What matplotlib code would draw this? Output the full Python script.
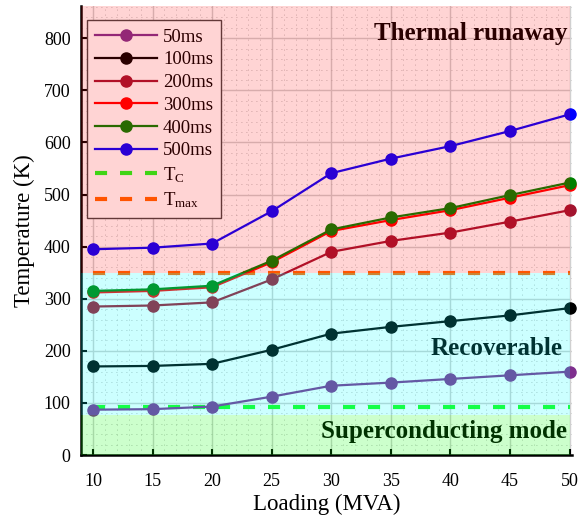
import matplotlib
matplotlib.use("Agg")
import matplotlib.pyplot as plt
from matplotlib.ticker import MultipleLocator

plt.rcParams['font.family'] = ['Liberation Serif', 'DejaVu Serif']
plt.rcParams['mathtext.fontset'] = 'custom'
plt.rcParams['mathtext.rm'] = 'Liberation Serif'
plt.rcParams['mathtext.it'] = 'Liberation Serif:italic'
plt.rcParams['mathtext.bf'] = 'Liberation Serif:bold'

# ---- data ----
loading = [10, 15, 20, 25, 30, 35, 40, 45, 50]
t50 = [87, 88, 93, 112, 133, 139, 146, 153, 160]
t100 = [170, 171, 175, 202, 233, 246, 257, 268, 282]
t200 = [285, 287, 293, 337, 390, 411, 427, 448, 470]
t300 = [312, 315, 322, 370, 430, 451, 470, 494, 518]
t400 = [315, 318, 325, 373, 433, 456, 474, 499, 523]
t500 = [395, 398, 406, 468, 541, 569, 593, 622, 654]
series_labels = ['50ms', '100ms', '200ms', '300ms', '400ms', '500ms']
T_C = 92
T_MAX = 350
zone_sc_top = 77
zone_rec_top = 349
xticks = [10, 15, 20, 25, 30, 35, 40, 45, 50]
yticks = [0, 100, 200, 300, 400, 500, 600, 700, 800]

colors = ['#7E2F8E', '#000000', '#A2142F', '#FF0000', '#008000', '#0000FF']

fig = plt.figure(figsize=(5.81, 5.19), dpi=100)
ax = fig.add_axes([81 / 581, 64 / 519, 491 / 581, 449 / 519])

for vals, lab, c in zip([t50, t100, t200, t300, t400, t500], series_labels, colors):
    ax.plot(loading, vals, '-o', color=c, lw=1.6, ms=8, mec=c, mfc=c,
            label=lab, clip_on=False, zorder=3)

ax.plot([loading[0], loading[-1]], [T_C, T_C], color='#1aff1a', lw=3,
        dashes=(2.9, 3.1), label=r'T$_\mathrm{C}$', zorder=2.5)
ax.plot([loading[0], loading[-1]], [T_MAX, T_MAX], color='#FF6600', lw=3,
        dashes=(2.9, 3.1), label=r'T$_\mathrm{max}$', zorder=2.5)

ax.set_xlim(9, 50.2)
ax.set_ylim(0, 862)

# zone annotations (under the tinted overlays)
ax.text(49.77, 797, 'Thermal runaway', ha='right', va='baseline',
        fontsize=18, fontweight='bold', color='black', zorder=4)
ax.text(49.43, 192, 'Recoverable', ha='right', va='baseline',
        fontsize=18, fontweight='bold', color='black', zorder=4)
ax.text(49.77, 32, 'Superconducting mode', ha='right', va='baseline',
        fontsize=18, fontweight='bold', color='black', zorder=4)

leg = ax.legend(loc='upper left', bbox_to_anchor=(6 / 491, 1 - 14 / 449),
                borderaxespad=0, fontsize=13.5, handlelength=3.3,
                handletextpad=0.3, labelspacing=0.3, borderpad=0.45,
                fancybox=False, framealpha=1, facecolor='white',
                edgecolor='#444444')
leg.get_frame().set_linewidth(1.0)
leg.set_zorder(5)

# tinted overlays on top of everything
ax.fill_between([8, 50], 0, zone_sc_top, color='#00ff00', alpha=0.2, lw=0, zorder=10)
ax.fill_between([8, 50], zone_sc_top, zone_rec_top, color='#00ffff', alpha=0.2, lw=0, zorder=10)
ax.fill_between([8, 50], zone_rec_top, 2000, color='#ff0000', alpha=0.17, lw=0, zorder=10)

# grids
ax.set_xticks(xticks)
ax.set_yticks(yticks)
ax.xaxis.set_minor_locator(MultipleLocator(1))
ax.yaxis.set_minor_locator(MultipleLocator(20))
ax.grid(which='major', color='#d0d0d0', lw=1.0, zorder=0)
ax.grid(which='minor', color='#b0b0b0', lw=0.6, linestyle=(0, (1, 5)), zorder=0)
ax.set_axisbelow(True)

ax.tick_params(which='major', direction='in', length=4, width=1.5,
               labelsize=13, colors='black')
ax.tick_params(axis='x', which='major', pad=13)
ax.tick_params(axis='y', which='major', pad=7.5)
ax.tick_params(which='minor', length=0)

for s in ['top', 'right']:
    ax.spines[s].set_visible(False)
for s in ['left', 'bottom']:
    ax.spines[s].set_linewidth(1.8)
    ax.spines[s].set_color('black')

ax.set_xlabel('Loading (MVA)', fontsize=16.5, labelpad=3)
ax.set_ylabel('Temperature (K)', fontsize=16.5, labelpad=6)

fig.savefig('out.png', dpi=100)
